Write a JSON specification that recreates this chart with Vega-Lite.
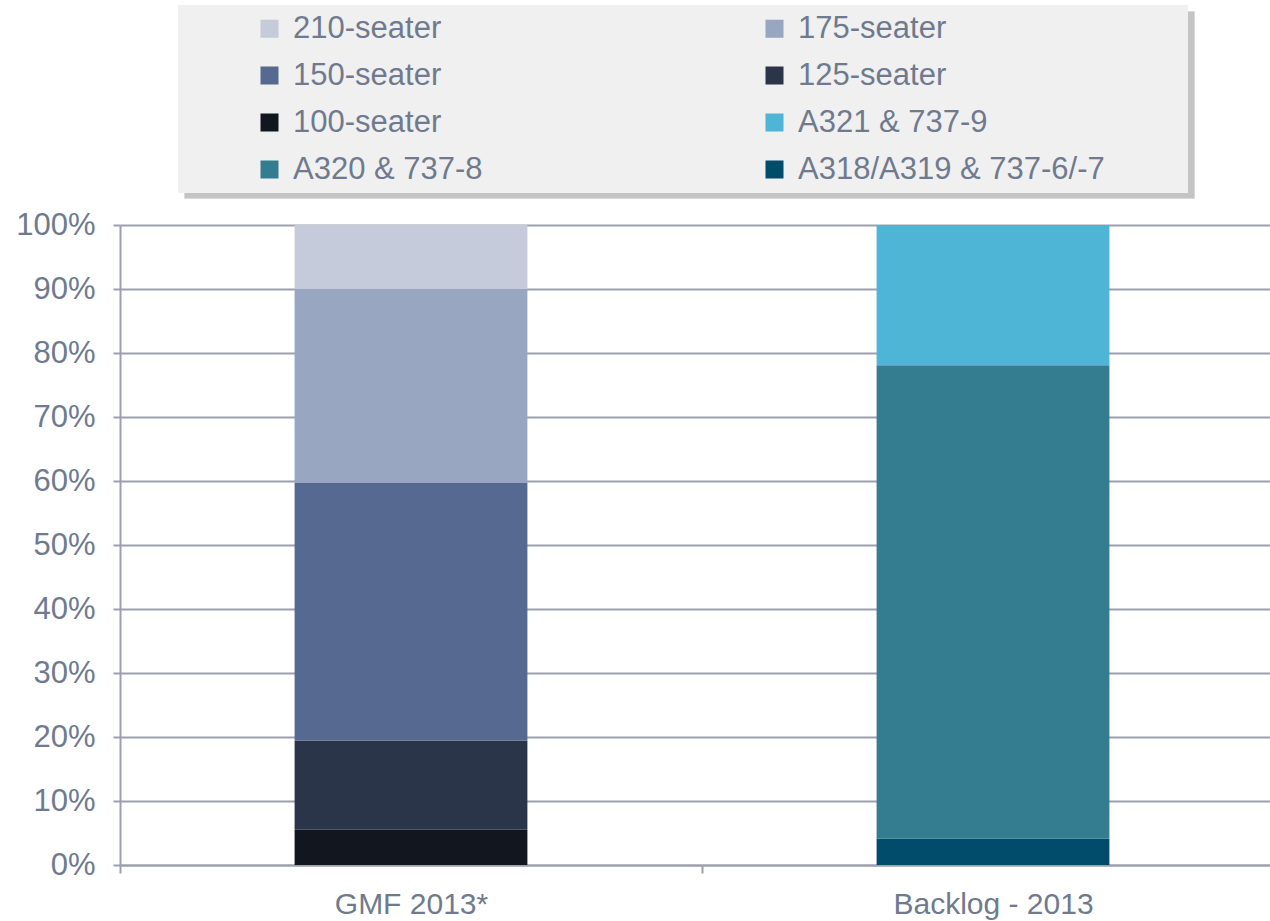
{
  "$schema": "https://vega.github.io/schema/vega-lite/v6.json",
  "autosize": "none",
  "width": 1164,
  "height": 640,
  "padding": {"left": 120, "top": 225, "right": 0, "bottom": 56},
  "background": "white",
  "data": {
    "values": [
      {"category": "GMF 2013*", "segment": "100-seater", "share": 5.5, "rank": 1},
      {"category": "GMF 2013*", "segment": "125-seater", "share": 13.9, "rank": 2},
      {"category": "GMF 2013*", "segment": "150-seater", "share": 40.3, "rank": 3},
      {"category": "GMF 2013*", "segment": "175-seater", "share": 30.3, "rank": 4},
      {"category": "GMF 2013*", "segment": "210-seater", "share": 10.0, "rank": 5},
      {"category": "Backlog - 2013", "segment": "A318/A319 & 737-6/-7", "share": 4.1, "rank": 1},
      {"category": "Backlog - 2013", "segment": "A320 & 737-8", "share": 74.0, "rank": 2},
      {"category": "Backlog - 2013", "segment": "A321 & 737-9", "share": 21.9, "rank": 3}
    ]
  },
  "config": {
    "font": "Liberation Sans",
    "view": {"stroke": null},
    "axis": {
      "labelFont": "Liberation Sans",
      "labelFontSize": 30,
      "labelColor": "#6f7a8f",
      "labelLimit": 500,
      "domainColor": "#9ca0ac",
      "tickColor": "#9ca0ac",
      "gridColor": "#9ca0ac",
      "domainWidth": 2,
      "tickWidth": 2,
      "gridWidth": 2,
      "title": null
    }
  },
  "encoding": {
    "x": {
      "field": "category",
      "type": "nominal",
      "sort": ["GMF 2013*", "Backlog - 2013"],
      "scale": {"type": "band", "paddingInner": 0, "paddingOuter": 0},
      "axis": {
        "labelAngle": 0,
        "labelAlign": "center",
        "tickBand": "extent",
        "tickSize": 8,
        "labelPadding": 16,
        "grid": false,
        "domain": true
      }
    },
    "y": {
      "field": "share",
      "type": "quantitative",
      "stack": "zero",
      "scale": {"domain": [0, 100], "nice": false},
      "axis": {
        "values": [0, 10, 20, 30, 40, 50, 60, 70, 80, 90, 100],
        "labelExpr": "datum.value + '%'",
        "labelFontSize": 31,
        "tickSize": 7,
        "labelPadding": 18,
        "grid": true,
        "domain": true
      }
    },
    "order": {"field": "rank", "type": "quantitative"}
  },
  "layer": [
    {
      "mark": {"type": "point", "opacity": 0, "size": 0},
      "encoding": {
        "color": {
          "field": "segment",
          "type": "nominal",
          "scale": {"range": ["#c4c4c4"]},
          "legend": {
            "orient": "none",
            "direction": "horizontal",
            "legendX": 64,
            "legendY": -214,
            "columns": 2,
            "title": null,
            "fillColor": "#c4c4c4",
            "strokeColor": "#dadada",
            "padding": 8,
            "symbolOffset": 0,
            "symbolType": "square",
            "symbolSize": 324,
            "symbolOpacity": 0,
            "symbolStrokeWidth": 0,
            "labelExpr": "''",
            "labelFontSize": 1,
            "labelOffset": 0,
            "rowPadding": 33,
            "columnPadding": 958
          }
        }
      }
    },
    {
      "mark": {"type": "bar", "width": {"band": 0.4}},
      "encoding": {
        "fill": {
          "field": "segment",
          "type": "nominal",
          "scale": {
            "domain": ["210-seater", "175-seater", "150-seater", "125-seater", "100-seater", "A321 & 737-9", "A320 & 737-8", "A318/A319 & 737-6/-7"],
            "range": ["#c5cbdb", "#98a6c1", "#566a91", "#2b354a", "#12161f", "#4fb5d7", "#347d91", "#004c6a"]
          },
          "legend": {
            "orient": "none",
            "direction": "horizontal",
            "legendX": 58,
            "legendY": -220,
            "columns": 2,
            "title": " ",
            "titleOrient": "right",
            "titleFontSize": 1,
            "titlePadding": 75,
            "fillColor": "#f0f0f0",
            "padding": 8,
            "symbolOffset": 68,
            "symbolType": "square",
            "symbolSize": 324,
            "symbolStrokeWidth": 0,
            "labelFont": "Liberation Sans",
            "labelFontSize": 31,
            "labelColor": "#6f7a8f",
            "labelOffset": 8,
            "labelLimit": 400,
            "rowPadding": 15,
            "columnPadding": 208
          }
        }
      }
    }
  ]
}
